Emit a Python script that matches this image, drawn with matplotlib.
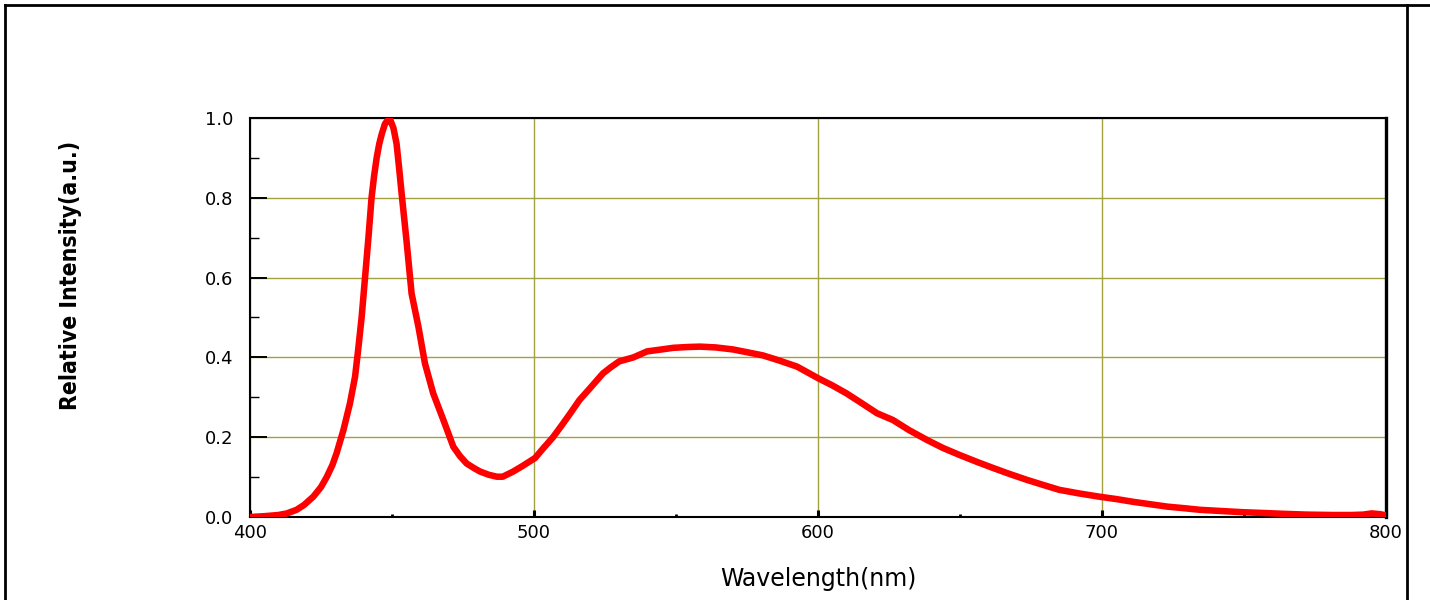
import matplotlib
matplotlib.use("Agg")
from matplotlib import pyplot as plt
from matplotlib.lines import Line2D
from matplotlib.ticker import MultipleLocator

# spectrum
wavelength = [400, 405, 410, 413, 416.4, 419, 422.3, 425, 427, 429, 430.5, 432.9, 435.2,
              437, 438.1, 439.3, 440.5, 441.7, 442.8, 443.7, 444.6, 445.5, 446.4, 447.5,
              448.7, 449.3, 450.5, 451.6, 452.5, 453.4, 455.2, 456.9, 459.3, 461.6, 464.5,
              468.1, 471.6, 474, 476.3, 479, 481, 484, 486.9, 489, 492.7, 496, 500.4,
              503, 506.7, 510, 513, 516, 520, 524.3, 527, 530, 535, 539.8, 545, 549,
              554, 558.5, 564, 570, 575, 580.6, 586, 592.6, 600, 605, 610, 614.8, 620.8,
              626.4, 632, 638.4, 644, 650, 656, 661.6, 667, 673.6, 679, 685, 692, 699,
              705, 711, 717, 723, 729, 734.5, 742, 749.6, 757, 763.7, 772, 781, 788,
              792, 795, 798, 800]
intensity = [0.0, 0.002, 0.005, 0.009, 0.018, 0.03, 0.051, 0.075, 0.10, 0.13, 0.16, 0.218,
             0.285, 0.352, 0.42, 0.50, 0.60, 0.70, 0.80, 0.855, 0.90, 0.935, 0.96, 0.985,
             0.997, 0.997, 0.975, 0.936, 0.875, 0.81, 0.686, 0.56, 0.477, 0.385, 0.31,
             0.243, 0.176, 0.152, 0.134, 0.122, 0.114, 0.106, 0.101, 0.101, 0.114,
             0.128, 0.148, 0.17, 0.20, 0.232, 0.262, 0.293, 0.325, 0.36, 0.375, 0.39,
             0.40, 0.415, 0.42, 0.424, 0.426, 0.427, 0.425, 0.42, 0.413, 0.405, 0.393,
             0.377, 0.348, 0.33, 0.31, 0.288, 0.26, 0.243, 0.218, 0.193, 0.173, 0.155,
             0.138, 0.123, 0.109, 0.093, 0.081, 0.068, 0.059, 0.051, 0.045, 0.038,
             0.032, 0.026, 0.022, 0.018, 0.015, 0.012, 0.01, 0.008, 0.006, 0.005,
             0.005, 0.006, 0.009, 0.007, 0.004]

x_ticks = [400, 500, 600, 700, 800]
y_ticks = [0.0, 0.2, 0.4, 0.6, 0.8, 1.0]

grid_col = '#a3a040'

fig = plt.figure(figsize=(14.3, 6), dpi=100)
ax = fig.add_axes([250 / 1430, 1 - 517 / 600, 1136 / 1430, 399 / 600])

ax.plot(wavelength, intensity, color='#ff0000', lw=4.7, solid_capstyle='round',
        solid_joinstyle='round', zorder=3)

ax.set_xlim(400, 800)
ax.set_ylim(0, 1.0)
ax.set_xticks(x_ticks)
ax.set_yticks(y_ticks)
ax.set_yticklabels([f'{v:.1f}' for v in y_ticks])
ax.xaxis.set_minor_locator(MultipleLocator(50))
ax.yaxis.set_minor_locator(MultipleLocator(0.1))

ax.grid(True, which='major', color=grid_col, lw=1.0)
ax.set_axisbelow(True)

ax.tick_params(axis='y', which='major', direction='in', length=12.5, width=1.4,
               labelsize=13, pad=12)
ax.tick_params(axis='y', which='minor', direction='in', length=6.5, width=1.0)
ax.tick_params(axis='x', which='major', direction='in', length=5, width=2.2,
               labelsize=13, pad=5)
ax.tick_params(axis='x', which='minor', direction='in', length=2.2, width=2.0)

for side in ['left', 'top', 'bottom']:
    ax.spines[side].set_linewidth(1.5)
ax.spines['right'].set_linewidth(2.4)

ax.set_ylabel('Relative Intensity(a.u.)', fontsize=16.5, fontweight='bold',
              family='DejaVu Sans', fontstretch='condensed')
ax.yaxis.set_label_coords(-0.148, 0.605)
ax.set_xlabel('Wavelength(nm)', fontsize=17, labelpad=18)

# frame around the figure
top = 1 - 5 / 600
for xs, ys in [([5 / 1430, 5 / 1430], [0, top]),
               ([5 / 1430, 1], [top, top]),
               ([1407 / 1430, 1407 / 1430], [0, top])]:
    fig.add_artist(Line2D(xs, ys, color='black', lw=2, transform=fig.transFigure, zorder=10))

fig.savefig('out.png', dpi=100)
